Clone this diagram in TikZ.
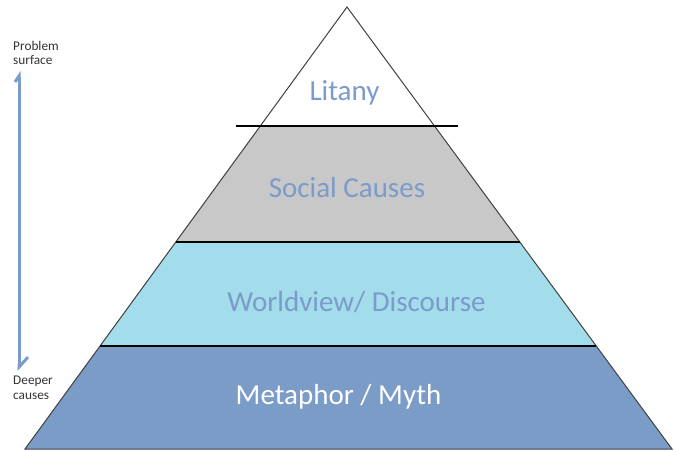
\documentclass[tikz,border=0pt]{standalone}
\usepackage{fontspec}
\setmainfont{Carlito}
\usetikzlibrary{calc,arrows.meta}
\definecolor{txtblue}{HTML}{7B9BCB}
\definecolor{deepblue}{HTML}{7A9CC6}
\definecolor{lightblue}{HTML}{A3DCEA}
\definecolor{midgray}{HTML}{C8C8C8}
\definecolor{edgegray}{HTML}{404040}
\tikzset{
  band/.style={draw=none},
  divider/.style={draw=black, line width=2pt},
  outline/.style={draw=edgegray, line width=1pt},
  biglabel/.style={font=\fontsize{29}{34}\selectfont, text=txtblue, anchor=base, inner sep=0pt},
  smalllabel/.style={font=\fontsize{13.3}{14.5}\selectfont, text=black!80, align=left, anchor=north west, inner sep=0pt},
  scalearrow/.style={draw=deepblue, line width=3pt,
    {Straight Barb[left,length=10pt,width=18pt,line width=3pt]}-{Straight Barb[left,length=6pt,width=8pt,line width=3pt]}}
}
\begin{document}
\begin{tikzpicture}[x=1pt,y=-1pt]
\useasboundingbox (0,0) rectangle (675,452);
\coordinate (A) at (347,7);
\coordinate (BL) at (25,449);
\coordinate (BR) at (672,449);
\coordinate (L1) at ($(A)!0.2692!(BL)$);
\coordinate (R1) at ($(A)!0.2692!(BR)$);
\coordinate (L2) at ($(A)!0.5317!(BL)$);
\coordinate (R2) at ($(A)!0.5317!(BR)$);
\coordinate (L3) at ($(A)!0.7670!(BL)$);
\coordinate (R3) at ($(A)!0.7670!(BR)$);
% bands
\fill[midgray] (L1) -- (R1) -- (R2) -- (L2) -- cycle;
\fill[lightblue] (L2) -- (R2) -- (R3) -- (L3) -- cycle;
\fill[deepblue] (L3) -- (R3) -- (BR) -- (BL) -- cycle;
% outline
\draw[outline] (A) -- (BR) -- (BL) -- cycle;
% dividers
\coordinate (D1a) at (236,126);
\coordinate (D1b) at (458,126);
\draw[divider] (D1a) -- (D1b);
\draw[divider] (L2) -- (R2);
\draw[divider] (L3) -- (R3);
% labels
\node[biglabel] (litany) at (344.5,100) {Litany};
\node[biglabel] (social) at (347,197.5) {Social Causes};
\node[biglabel] (world) at (356.5,311) {Worldview/ Discourse};
\node[biglabel, text=white] (myth) at (338.5,404) {Metaphor / Myth};
% left scale
\node[smalllabel] (surface) at (13,41) {Problem\\surface};
\node[smalllabel] (deeper) at (13,376) {Deeper\\causes};
\coordinate (arrtop) at (19,71);
\coordinate (arrbot) at (19,371);
\draw[scalearrow] (arrbot) -- (arrtop);
\end{tikzpicture}
\end{document}
